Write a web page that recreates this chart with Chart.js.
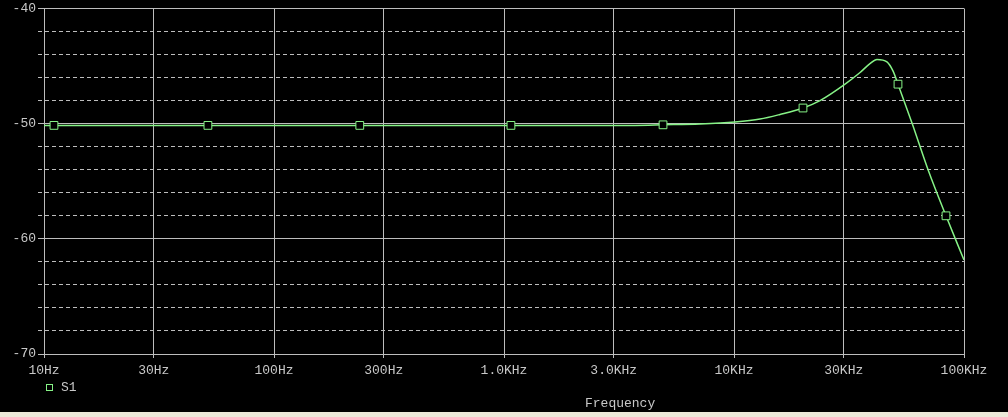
<!DOCTYPE html>
<html>
<head>
<meta charset="utf-8">
<title>S1 frequency response</title>
<script src="https://cdn.jsdelivr.net/npm/chart.js@4/dist/chart.umd.min.js"></script>
<style>
  html, body { margin: 0; padding: 0; background: #ece9d8; }
  #wrap { width: 1008px; height: 412px; background: #000; }
  canvas { display: block; }
</style>
</head>
<body>
<div id="wrap"><canvas id="plot" width="1008" height="412"></canvas></div>
<script>
// trace S1 (Hz, dB)
const freqs = [10, 11.05, 51.6, 236, 1072, 3712, 4914, 7117, 10095, 12976, 15849,
  19950, 23660, 30400, 35320, 39000, 41850, 46240, 49110, 51640, 59570, 69980,
  83500, 100000];
const values = [-50.15, -50.15, -50.15, -50.15, -50.15, -50.15, -50.1, -50.02, -49.85,
  -49.6, -49.2, -48.64, -48.0, -46.57, -45.56, -44.79, -44.42, -44.64, -45.42,
  -46.57, -50.0, -54.06, -58.0, -61.84];

// the square markers sitting on the trace
const markerFreqs = [11.05, 51.6, 236, 1072, 4914, 19950, 51640, 83500];
const markerValues = [-50.15, -50.15, -50.15, -50.15, -50.1, -48.64, -46.57, -58.0];

const xTickValues = [10, 30, 100, 300, 1000, 3000, 10000, 30000, 100000];
const xTickLabels = ['10Hz', '30Hz', '100Hz', '300Hz', '1.0KHz', '3.0KHz', '10KHz', '30KHz', '100KHz'];
const yMin = -70, yMax = -40, yStep = 2;

const seriesName = 'S1';
const xTitle = 'Frequency';

const GREEN = '#86f286';
const GRID = '#bdbdbd';
const TEXT = '#c8c8c8';
const FONT = 'Liberation Mono, Courier New, monospace';

const toPoints = (xs, ys) => xs.map((x, i) => ({ x, y: ys[i] }));

// legend + axis title sit under the tick labels, drawn by hand
const bottomText = {
  id: 'bottomText',
  afterDraw(chart) {
    const c = chart.ctx;
    c.save();
    c.strokeStyle = GREEN;
    c.lineWidth = 1;
    c.strokeRect(46.5, 384.5, 6, 6);
    c.fillStyle = TEXT;
    c.font = '13px ' + FONT;
    c.textBaseline = 'middle';
    c.fillText(seriesName, 61, 388);
    c.fillText(xTitle, 585, 404);
    c.restore();
  }
};

const dashed = ctx => (ctx.tick && ctx.tick.value % 10 !== 0) ? [4, 3] : [];

new Chart(document.getElementById('plot'), {
  type: 'line',
  data: {
    datasets: [
      {
        label: seriesName,
        data: toPoints(markerFreqs, markerValues),
        showLine: false,
        pointStyle: 'rect',
        pointRadius: 5.5,
        pointBorderWidth: 1,
        pointBorderColor: GREEN,
        pointBackgroundColor: '#000'
      },
      {
        label: seriesName + ' trace',
        data: toPoints(freqs, values),
        borderColor: GREEN,
        borderWidth: 1.5,
        pointRadius: 0,
        cubicInterpolationMode: 'monotone',
        fill: false
      }
    ]
  },
  options: {
    responsive: false,
    animation: false,
    events: [],
    layout: { padding: { top: 7, right: 44, left: 0, bottom: 0 } },
    plugins: {
      legend: { display: false },
      tooltip: { enabled: false }
    },
    scales: {
      x: {
        type: 'logarithmic',
        min: 10,
        max: 100000,
        afterBuildTicks: s => { s.ticks = xTickValues.map(v => ({ value: v })); },
        afterFit: s => { s.height = 58; },
        ticks: {
          autoSkip: false,
          maxRotation: 0,
          minRotation: 0,
          padding: 5,
          color: TEXT,
          font: { family: FONT, size: 13 },
          callback: (v, i) => xTickLabels[i]
        },
        grid: { color: GRID, lineWidth: 1, tickLength: 4 },
        border: { color: GRID, width: 1 }
      },
      y: {
        type: 'linear',
        min: yMin,
        max: yMax,
        afterFit: s => { s.width = 44; },
        ticks: {
          stepSize: yStep,
          padding: 2,
          color: TEXT,
          font: { family: FONT, size: 13, lineHeight: 1 },
          callback: v => (v % 10 === 0 ? String(v) : '')
        },
        grid: { color: GRID, lineWidth: 1, tickLength: 6, tickBorderDash: dashed },
        border: { color: GRID, width: 1, dash: dashed }
      }
    }
  },
  plugins: [bottomText]
});
</script>
</body>
</html>
